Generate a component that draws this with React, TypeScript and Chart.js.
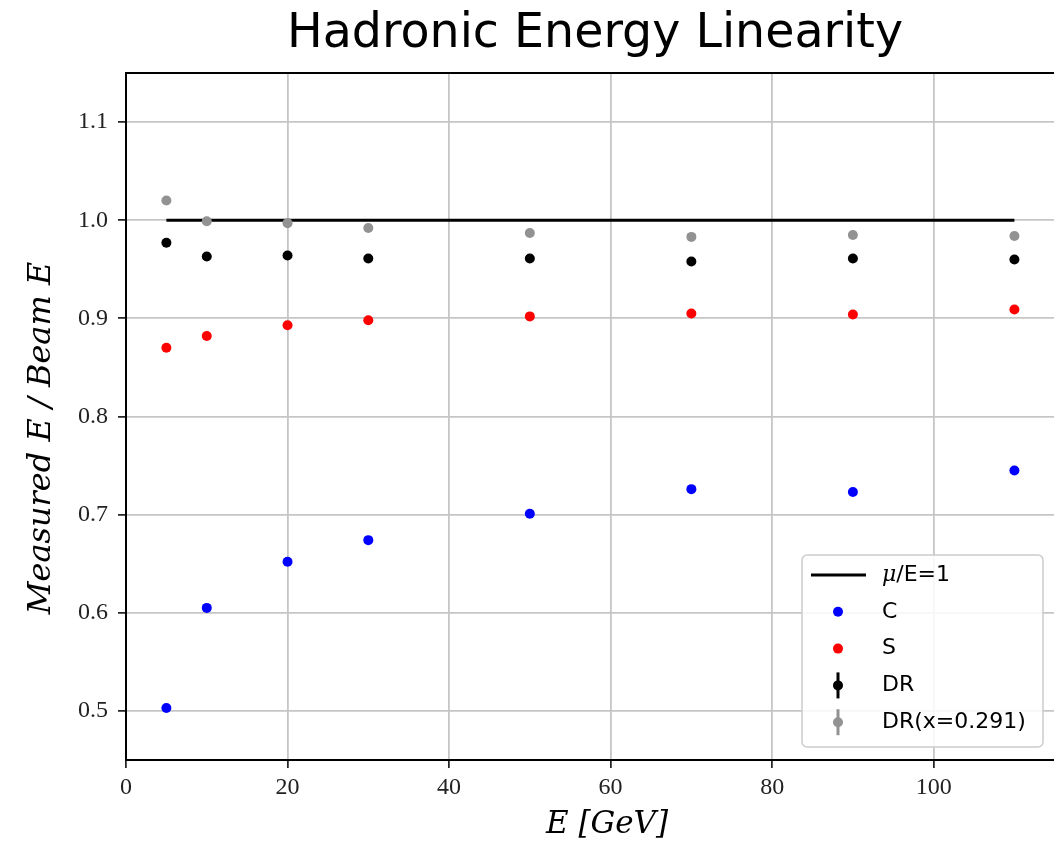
import React, { useEffect, useRef } from "react";
import { Chart, registerables } from "chart.js";

Chart.register(...registerables);

const energies = [5, 10, 20, 30, 50, 70, 90, 110];
const cValues = [0.503, 0.605, 0.652, 0.674, 0.701, 0.726, 0.723, 0.745];
const sValues = [0.870, 0.882, 0.893, 0.898, 0.902, 0.905, 0.904, 0.909];
const drValues = [0.977, 0.963, 0.964, 0.961, 0.961, 0.958, 0.961, 0.960];
const drXValues = [1.020, 0.999, 0.997, 0.992, 0.987, 0.983, 0.985, 0.984];
const refLineX = [5, 110];
const refLineY = [1.0, 1.0];
const xTicks = [0, 20, 40, 60, 80, 100];
const yTicks = [0.5, 0.6, 0.7, 0.8, 0.9, 1.0, 1.1];

const seriesLabels = ["μ/E=1", "C", "S", "DR", "DR(x=0.291)"];
const seriesColors = ["#000000", "#0000ff", "#ff0000", "#000000", "#929292"];

const TITLE = "Hadronic Energy Linearity";
const X_LABEL = "E [GeV]";
const Y_LABEL = "Measured E / Beam E";

const toPoints = (xs: number[], ys: number[]) => xs.map((x, i) => ({ x, y: ys[i] }));

const decorPlugin = {
  id: "decor",
  afterDraw(chart: any) {
    const { ctx, chartArea } = chart;
    ctx.save();
    // top border
    ctx.strokeStyle = "#000";
    ctx.lineWidth = 2;
    ctx.beginPath();
    ctx.moveTo(chartArea.left, chartArea.top);
    ctx.lineTo(chartArea.right, chartArea.top);
    ctx.stroke();

    // title
    ctx.fillStyle = "#000";
    ctx.font = "47.5px 'DejaVu Sans'";
    ctx.textAlign = "center";
    ctx.textBaseline = "alphabetic";
    ctx.fillText(TITLE, 595, 47);

    // axis labels
    ctx.font = "italic 31px 'DejaVu Serif'";
    ctx.fillText(X_LABEL, 607, 833);
    ctx.save();
    ctx.translate(50, 438);
    ctx.rotate(-Math.PI / 2);
    ctx.font = "italic 32px 'DejaVu Serif'";
    ctx.fillText(Y_LABEL, 0, 0);
    ctx.restore();

    // legend
    const bw = 241;
    const bh = 192;
    const bx = chartArea.right - 11 - bw;
    const by = chartArea.bottom - 13 - bh;
    ctx.fillStyle = "rgba(255,255,255,0.85)";
    ctx.strokeStyle = "#cccccc";
    ctx.lineWidth = 1.5;
    ctx.beginPath();
    (ctx as any).roundRect(bx, by, bw, bh, 5);
    ctx.fill();
    ctx.stroke();

    const ds = chart.data.datasets;
    const rowH = 36.8;
    const markX = bx + 36;
    const textX = bx + 80;
    ctx.textAlign = "left";
    ctx.textBaseline = "middle";
    for (let i = 0; i < ds.length; i++) {
      const y = by + 20 + i * rowH;
      const col = ds[i].backgroundColor;
      if (i === 0) {
        ctx.strokeStyle = ds[i].borderColor;
        ctx.lineWidth = 3;
        ctx.beginPath();
        ctx.moveTo(bx + 9, y);
        ctx.lineTo(bx + 64, y);
        ctx.stroke();
      } else {
        if (i >= 3) {
          ctx.strokeStyle = col;
          ctx.lineWidth = 3;
          ctx.beginPath();
          ctx.moveTo(markX, y - 13);
          ctx.lineTo(markX, y + 13);
          ctx.stroke();
        }
        ctx.fillStyle = col;
        ctx.beginPath();
        ctx.arc(markX, y, 5, 0, Math.PI * 2);
        ctx.fill();
      }
      ctx.fillStyle = "#000";
      if (i === 0) {
        ctx.font = "italic 22px 'DejaVu Serif'";
        ctx.fillText("μ", textX, y);
        const w = ctx.measureText("μ").width;
        ctx.font = "22px 'DejaVu Sans'";
        ctx.fillText("/E=1", textX + w, y);
      } else {
        ctx.font = "22px 'DejaVu Sans'";
        ctx.fillText(ds[i].label, textX, y);
      }
    }
    ctx.restore();
  },
};

export default function App() {
  const ref = useRef<HTMLCanvasElement>(null);
  useEffect(() => {
    document.body.style.margin = "0";
    const c = ref.current!;
    const scatter = (idx: number, ys: number[], order: number) => ({
      type: "scatter" as const,
      label: seriesLabels[idx],
      data: toPoints(energies, ys),
      backgroundColor: seriesColors[idx],
      borderColor: seriesColors[idx],
      pointRadius: 5,
      pointBorderWidth: 0,
      showLine: false,
      order,
    });
    const gridOpts = {
      color: "#c6c6c6",
      lineWidth: 1.8,
      tickColor: "#000",
      tickWidth: 1.5,
      tickLength: 8,
    };
    const chart = new Chart(c, {
      type: "scatter",
      data: {
        datasets: [
          {
            type: "line",
            label: seriesLabels[0],
            data: toPoints(refLineX, refLineY),
            borderColor: seriesColors[0],
            backgroundColor: seriesColors[0],
            borderWidth: 3,
            pointRadius: 0,
            order: 5,
          } as any,
          scatter(1, cValues, 4),
          scatter(2, sValues, 3),
          scatter(3, drValues, 2),
          scatter(4, drXValues, 1),
        ],
      },
      options: {
        animation: false,
        responsive: false,
        maintainAspectRatio: false,
        layout: { autoPadding: false, padding: { top: 73, left: 0, right: 0, bottom: 0 } },
        plugins: {
          legend: { display: false },
          title: { display: false },
          tooltip: { enabled: false },
        },
        scales: {
          x: {
            type: "linear",
            min: 0,
            max: 114.9,
            afterFit: (s: any) => {
              s.height = 83;
              s.paddingLeft = 0;
              s.paddingRight = 0;
            },
            afterBuildTicks: (s: any) => {
              s.ticks = xTicks.map((v) => ({ value: v }));
            },
            ticks: {
              font: { family: "'Liberation Serif'", size: 24 },
              color: "#222",
              padding: 5,
              callback: (v: any) => String(v),
            },
            grid: gridOpts,
            border: { display: true, color: "#000", width: 2 },
          },
          y: {
            type: "linear",
            min: 0.45,
            max: 1.15,
            afterFit: (s: any) => {
              s.width = 126;
              s.paddingTop = 0;
              s.paddingBottom = 0;
            },
            afterBuildTicks: (s: any) => {
              s.ticks = yTicks.map((v) => ({ value: v }));
            },
            ticks: {
              font: { family: "'Liberation Serif'", size: 24 },
              color: "#222",
              padding: 10,
              callback: (v: any) => Number(v).toFixed(1),
            },
            grid: gridOpts,
            border: { display: true, color: "#000", width: 2 },
          },
        },
      },
      plugins: [decorPlugin],
    });
    return () => chart.destroy();
  }, []);
  return (
    <div style={{ width: 1054, height: 843, background: "#fff" }}>
      <canvas ref={ref} width={1054} height={843} style={{ display: "block" }} />
    </div>
  );
}
